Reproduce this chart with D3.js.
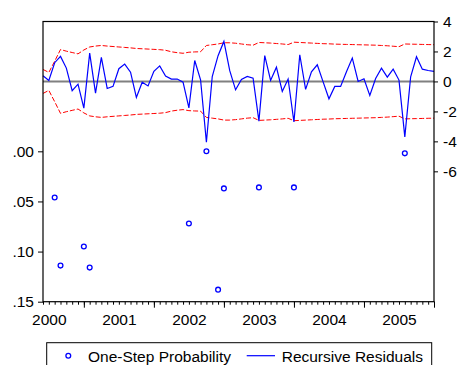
<!DOCTYPE html>
<html>
<head>
<meta charset="utf-8">
<script src="https://cdn.jsdelivr.net/npm/d3@7"></script>
<style>
  body { margin: 0; background: #fff; }
  svg { display: block; font-family: "Liberation Sans", Arial, sans-serif; }
</style>
</head>
<body>
<div id="chart"></div>
<script>
// monthly observations, first one is 1999M12
const residuals = [
  0.38, 0.07, 1.25, 1.67, 0.89, -0.62, -0.18, -1.78, 1.89, -0.78,
  1.6, -0.47, -0.33, 0.85, 1.16, 0.62, -1.07, -0.05, -0.3, 0.67,
  1.04, 0.36, 0.16, 0.16, -0.05, -1.76, 1.4, 0.11, -4.06, 0.33,
  1.72, 2.67, 0.72, -0.56, 0.13, 0.33, 0.21, -2.65, 1.72, 0.07,
  0.95, -0.67, 0.16, -2.71, 1.78, -0.53, 0.64, 1.11, -0.03, -1.16,
  -0.33, -0.33, 0.65, 1.56, 0, 0.18, -0.93, 0.2, 0.89, 0.29,
  0.82, 0.09, -3.7, 0.31, 1.65, 0.82, 0.73, 0.67
];
// two standard error band (+/-)
const band = [
  0.8, 0.6, 1.35, 2.13, 2.02, 1.93, 1.84, 2.1, 2.3, 2.36,
  2.4, 2.36, 2.33, 2.3, 2.27, 2.24, 2.2, 2.18, 2.16, 2.14,
  2.12, 2.08, 1.98, 1.92, 1.88, 1.95, 1.97, 1.98, 2.4, 2.45,
  2.5, 2.58, 2.58, 2.55, 2.5, 2.45, 2.42, 2.6, 2.58, 2.56,
  2.53, 2.5, 2.46, 2.62, 2.6, 2.58, 2.56, 2.54, 2.52, 2.51,
  2.49, 2.48, 2.47, 2.46, 2.45, 2.44, 2.43, 2.42, 2.4, 2.38,
  2.35, 2.32, 2.5, 2.49, 2.48, 2.47, 2.46, 2.45
];
// one-step probabilities shown (only those below .15)
const probObs = [2, 3, 7, 8, 25, 28, 30, 31, 37, 43, 62];
const probVals = [0.046, 0.114, 0.095, 0.116, 0.072, 0.0, 0.138, 0.037, 0.036, 0.036, 0.002];

const yearLabels = ["2000", "2001", "2002", "2003", "2004", "2005"];
const probTicks = [0, 0.05, 0.10, 0.15];
const resTicks = [4, 2, 0, -2, -4, -6];

const width = 458, height = 365;
const m = { left: 43, right: 434, top: 21.5, bottom: 301.7 };

const svg = d3.select("#chart").append("svg")
  .attr("width", width)
  .attr("height", height);

const x = d3.scaleLinear().domain([0, residuals.length - 1]).range([m.left, m.right]);
const yRes = d3.scaleLinear().domain([-14.7, 4]).range([m.bottom, m.top]);
const yProb = d3.scaleLinear().domain([0.15, -0.1295]).range([m.bottom, m.top]);

// band lines
const line = d3.line().x((d, i) => x(i)).y(d => yRes(d));
svg.append("path")
  .attr("d", line(band))
  .attr("fill", "none")
  .attr("stroke", "#ff0000")
  .attr("stroke-width", 1)
  .attr("stroke-dasharray", "5,2");
svg.append("path")
  .attr("d", line(band.map(d => -d)))
  .attr("fill", "none")
  .attr("stroke", "#ff0000")
  .attr("stroke-width", 1)
  .attr("stroke-dasharray", "5,2");

// zero line
svg.append("line")
  .attr("x1", m.left).attr("x2", m.right)
  .attr("y1", yRes(0)).attr("y2", yRes(0))
  .attr("stroke", "#808080")
  .attr("stroke-width", 2);

svg.append("path")
  .attr("d", line(residuals))
  .attr("fill", "none")
  .attr("stroke", "#0000ff")
  .attr("stroke-width", 1.2);

svg.append("g")
  .selectAll("circle")
  .data(probObs)
  .join("circle")
    .attr("cx", d => x(d))
    .attr("cy", (d, i) => yProb(probVals[i]))
    .attr("r", 2.4)
    .attr("fill", "#fff")
    .attr("stroke", "#0000ff")
    .attr("stroke-width", 1.3);

// frame
svg.append("rect")
  .attr("x", m.left).attr("y", m.top)
  .attr("width", m.right - m.left).attr("height", m.bottom - m.top)
  .attr("fill", "none")
  .attr("stroke", "#000")
  .attr("stroke-width", 1.2);

// x axis: monthly minor ticks, mid-year major ticks, year labels
const minor = d3.range(0, residuals.length);
const major = d3.range(7, residuals.length, 12);
const labelPos = yearLabels.map(y => (+y - 2000) * 12 + 1);

const styleAxis = g => {
  g.select(".domain").remove();
  g.selectAll("line").attr("stroke", "#000");
  g.selectAll("text").attr("fill", "#000").attr("font-size", 15.5);
  g.attr("font-family", null);
};

svg.append("g")
  .attr("transform", `translate(0,${m.bottom})`)
  .call(d3.axisBottom(x).tickValues(minor).tickSize(3).tickFormat(""))
  .call(styleAxis);
svg.append("g")
  .attr("transform", `translate(0,${m.bottom})`)
  .call(d3.axisBottom(x).tickValues(major).tickSize(6).tickFormat(""))
  .call(styleAxis);
svg.append("g")
  .attr("transform", `translate(0,${m.bottom})`)
  .call(d3.axisBottom(x).tickValues(labelPos).tickSize(0).tickPadding(12)
    .tickFormat((d, i) => yearLabels[i]))
  .call(styleAxis);

svg.append("g")
  .attr("transform", `translate(${m.left},0)`)
  .call(d3.axisLeft(yProb).tickValues(probTicks).tickSize(5).tickPadding(4)
    .tickFormat(d => d3.format(".2f")(d).replace(/^0/, "")))
  .call(styleAxis);

svg.append("g")
  .attr("transform", `translate(${m.right},0)`)
  .call(d3.axisRight(yRes).tickValues(resTicks).tickSize(4).tickPadding(5)
    .tickFormat(d => String(d)))
  .call(styleAxis);

// legend
const lg = svg.append("g");
lg.append("rect")
  .attr("x", 46.7).attr("y", 342.7)
  .attr("width", 385).attr("height", 40)
  .attr("fill", "none")
  .attr("stroke", "#000")
  .attr("stroke-width", 1);
lg.append("circle")
  .attr("cx", 68.3).attr("cy", 355.7).attr("r", 2.4)
  .attr("fill", "#fff").attr("stroke", "#0000ff").attr("stroke-width", 1.3);
lg.append("text")
  .attr("x", 88).attr("y", 361.5)
  .attr("font-size", 15.5)
  .text("One-Step Probability");
lg.append("line")
  .attr("x1", 246.7).attr("x2", 275)
  .attr("y1", 355.7).attr("y2", 355.7)
  .attr("stroke", "#0000ff").attr("stroke-width", 1.2);
lg.append("text")
  .attr("x", 281.7).attr("y", 361.5)
  .attr("font-size", 15.5)
  .text("Recursive Residuals");
</script>
</body>
</html>
